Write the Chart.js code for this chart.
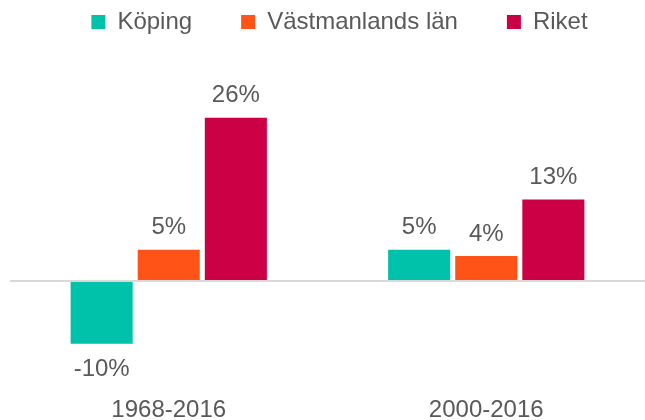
<!DOCTYPE html>
<html>
<head>
<meta charset="utf-8">
<script src="https://cdn.jsdelivr.net/npm/chart.js@4/dist/chart.umd.min.js"></script>
<style>
  html, body { margin: 0; padding: 0; background: #fff; }
  #wrap { width: 645px; height: 420px; }
</style>
</head>
<body>
<div id="wrap"><canvas id="chart"></canvas></div>
<script>
const perioder = ['1968-2016', '2000-2016'];
const koping = [-10, 5];
const vastmanland = [5, 4];
const riket = [26, 13];

const FONT = '"Liberation Sans", Arial, sans-serif';

// etiketter ovanför/under staplarna
const etiketter = {
  id: 'etiketter',
  afterDatasetsDraw(chart) {
    const ctx = chart.ctx;
    ctx.save();
    ctx.font = '24px ' + FONT;
    ctx.fillStyle = '#595959';
    ctx.textAlign = 'center';
    ctx.textBaseline = 'middle';
    chart.data.datasets.forEach((ds, i) => {
      chart.getDatasetMeta(i).data.forEach((bar, j) => {
        const v = ds.data[j];
        const y = v < 0 ? bar.y + 26 : bar.y - 22;
        ctx.fillText(v + '%', bar.x, y);
      });
    });
    ctx.restore();
  }
};

// fast höjd på legenden och lite förskjutning åt höger
const legendFix = {
  id: 'legendFix',
  beforeInit(chart) {
    const lg = chart.legend;
    const origFit = lg.fit;
    lg.fit = function() {
      origFit.call(this);
      this.height = 133;
    };
    const origDraw = lg.draw;
    lg.draw = function() {
      this.ctx.save();
      this.ctx.translate(12, 0);
      origDraw.call(this);
      this.ctx.restore();
    };
  }
};

const ctx = document.getElementById('chart').getContext('2d');
new Chart(ctx, {
  type: 'bar',
  data: {
    labels: perioder,
    datasets: [
      { label: 'Köping', data: koping, backgroundColor: '#00C1A9' },
      { label: 'Västmanlands län', data: vastmanland, backgroundColor: '#FF5318' },
      { label: 'Riket', data: riket, backgroundColor: '#CC0044' }
    ]
  },
  options: {
    responsive: true,
    maintainAspectRatio: false,
    animation: false,
    categoryPercentage: 0.634,
    barPercentage: 0.925,
    layout: { padding: { left: 10, right: 0, top: -39, bottom: -13 } },
    plugins: {
      legend: {
        position: 'top',
        labels: {
          boxWidth: 14,
          boxHeight: 14,
          padding: 49,
          color: '#595959',
          font: { size: 24, family: FONT }
        }
      },
      tooltip: { enabled: false }
    },
    scales: {
      x: {
        grid: { display: false },
        border: { display: false },
        ticks: {
          padding: 8,
          color: '#595959',
          font: { size: 24, family: FONT }
        }
      },
      y: {
        min: -15.8,
        max: 29.8,
        ticks: { display: false, stepSize: 1 },
        border: { display: false },
        grid: {
          drawTicks: false,
          lineWidth: 2,
          color: c => c.tick.value === 0 ? '#d9d9d9' : 'rgba(0,0,0,0)'
        }
      }
    }
  },
  plugins: [legendFix, etiketter]
});
</script>
</body>
</html>
